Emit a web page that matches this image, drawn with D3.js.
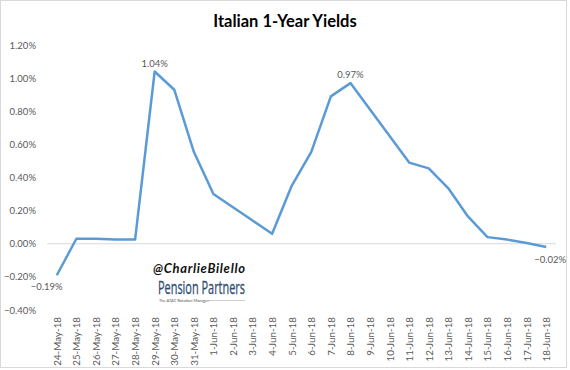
<!DOCTYPE html>
<html>
<head>
<meta charset="utf-8">
<script src="https://cdn.jsdelivr.net/npm/d3@7"></script>
<style>
  body { margin: 0; background: #fff; }
  text { font-family: Lato, "Open Sans", sans-serif; }
</style>
</head>
<body>
<div id="chart-area"></div>
<script>
// dates on the category axis
const dates = ["24-May-18", "25-May-18", "26-May-18", "27-May-18", "28-May-18", "29-May-18",
    "30-May-18", "31-May-18", "1-Jun-18", "2-Jun-18", "3-Jun-18", "4-Jun-18", "5-Jun-18",
    "6-Jun-18", "7-Jun-18", "8-Jun-18", "9-Jun-18", "10-Jun-18", "11-Jun-18", "12-Jun-18",
    "13-Jun-18", "14-Jun-18", "15-Jun-18", "16-Jun-18", "17-Jun-18", "18-Jun-18"];

// yield in percent
const yields = [-0.19, 0.03, 0.03, 0.025, 0.025, 1.04, 0.93, 0.555, 0.30, 0.22, 0.14, 0.06, 0.35,
    0.555, 0.89, 0.97, 0.81, 0.65, 0.49, 0.455, 0.335, 0.165, 0.04, 0.025, 0.005, -0.02];

const yTicks = [-0.4, -0.2, 0, 0.2, 0.4, 0.6, 0.8, 1.0, 1.2];

// which points get a label, and where
const labelled = [
    { i: 0, dx: -10, dy: 15 },
    { i: 5, dx: 0, dy: -5 },
    { i: 15, dx: 0, dy: -5 },
    { i: 25, dx: 4, dy: 16 }
];

const data = dates.map((d, i) => ({ date: d, value: yields[i] }));

const width = 570, height = 370;

const svg = d3.select("#chart-area")
    .append("svg")
        .attr("width", width)
        .attr("height", height);

svg.append("rect")
    .attr("x", 0.5).attr("y", 0.5)
    .attr("width", 566).attr("height", 367)
    .attr("fill", "#fff")
    .attr("stroke", "#d9d9d9");

const x = d3.scalePoint()
    .domain(dates)
    .range([47, 556])
    .padding(0.5);

const y = d3.scaleLinear()
    .domain([-0.4, 1.2])
    .range([310, 45]);

// title
svg.append("text")
    .attr("x", 285).attr("y", 27)
    .attr("text-anchor", "middle")
    .attr("font-size", 16.5)
    .attr("font-weight", "bold")
    .attr("fill", "#000")
    .text("Italian 1-Year Yields");

// y axis
const yAxis = svg.append("g")
    .attr("transform", "translate(47,0)")
    .call(d3.axisLeft(y).tickValues(yTicks).tickSize(0).tickPadding(11)
        .tickFormat(d => d3.format(".2f")(d) + "%"));
yAxis.select(".domain").remove();
yAxis.selectAll("text")
    .attr("font-size", 9.5)
    .attr("fill", "#595959")
    .style("font-family", "Lato, sans-serif");

// zero line
svg.append("line")
    .attr("x1", 47).attr("x2", 556)
    .attr("y1", y(0)).attr("y2", y(0))
    .attr("stroke", "#d9d9d9");

// x axis labels at the bottom
const xAxis = svg.append("g")
    .attr("transform", "translate(0,310)")
    .call(d3.axisBottom(x).tickSize(0));
xAxis.select(".domain").remove();
xAxis.selectAll("text")
    .attr("transform", "rotate(-90)")
    .attr("text-anchor", "end")
    .attr("x", -7)
    .attr("y", 0)
    .attr("dy", "0.35em")
    .attr("font-size", 9.8)
    .attr("fill", "#595959")
    .style("font-family", "Lato, sans-serif");

// watermark
svg.append("text")
    .attr("x", 199).attr("y", 273)
    .attr("text-anchor", "middle")
    .attr("font-size", 13)
    .attr("font-weight", "bold")
    .attr("font-style", "italic")
    .attr("fill", "#111")
    .attr("textLength", 92)
    .text("@CharlieBilello");
svg.append("text")
    .attr("x", 158).attr("y", 294)
    .attr("font-size", 17.5)
    .attr("fill", "#2f4d6e")
    .attr("stroke", "#2f4d6e")
    .attr("stroke-width", 0.3)
    .attr("textLength", 87)
    .attr("lengthAdjust", "spacingAndGlyphs")
    .style("font-family", "'Liberation Sans Narrow', 'Open Sans', sans-serif")
    .text("Pension Partners");
svg.append("text")
    .attr("x", 159).attr("y", 302)
    .attr("font-size", 4)
    .attr("fill", "#555")
    .text("The ATAC Rotation Manager");
svg.append("line")
    .attr("x1", 207).attr("x2", 245)
    .attr("y1", 300.5).attr("y2", 300.5)
    .attr("stroke", "#999")
    .attr("stroke-width", 0.5);

// the line
const line = d3.line()
    .x(d => x(d.date))
    .y(d => y(d.value));

svg.append("path")
    .datum(data)
    .attr("fill", "none")
    .attr("stroke", "#5b9bd5")
    .attr("stroke-width", 2.5)
    .attr("stroke-linejoin", "round")
    .attr("d", line);

// data labels
svg.selectAll(".dlabel")
    .data(labelled)
    .enter()
    .append("text")
        .attr("class", "dlabel")
        .attr("x", d => x(dates[d.i]) + d.dx)
        .attr("y", d => y(yields[d.i]) + d.dy)
        .attr("text-anchor", "middle")
        .attr("font-size", 9.5)
        .attr("fill", "#595959")
        .text(d => d3.format(".2f")(yields[d.i]) + "%");
</script>
</body>
</html>
